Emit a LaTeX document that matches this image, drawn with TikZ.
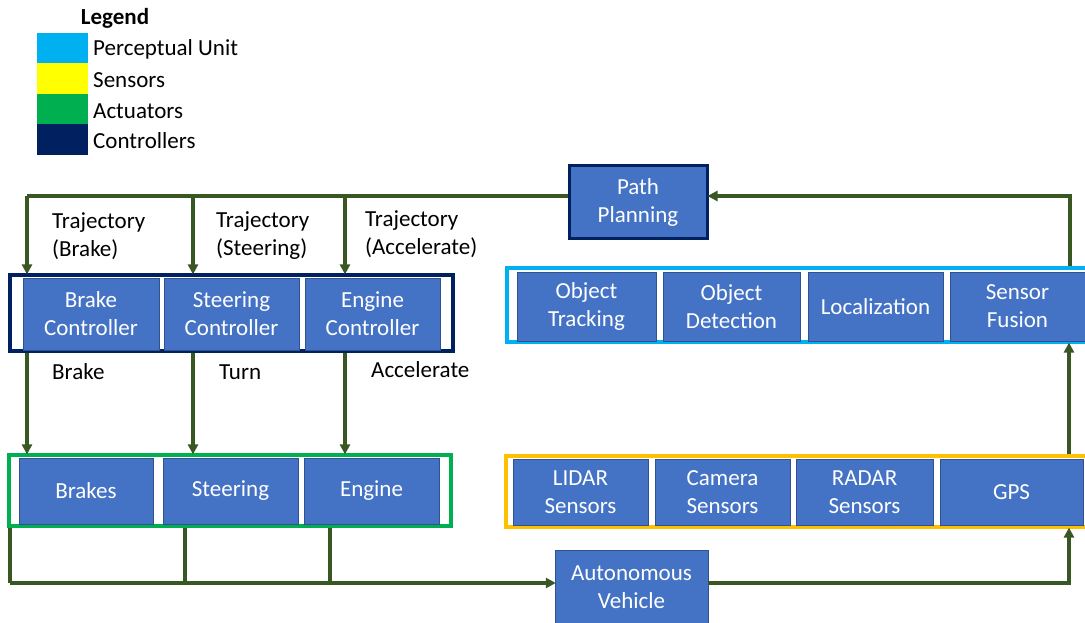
\documentclass[tikz,border=0pt]{standalone}
\usepackage{fontspec}
\setmainfont{Carlito}
\usetikzlibrary{arrows.meta}

\definecolor{unitblue}{HTML}{4472C4}
\definecolor{unitedge}{HTML}{2F528F}
\definecolor{flowgreen}{HTML}{385723}
\definecolor{ctrlnavy}{HTML}{002060}
\definecolor{actgreen}{HTML}{00B050}
\definecolor{percyan}{HTML}{00B0F0}
\definecolor{sensgold}{HTML}{FFC000}
\definecolor{legyellow}{HTML}{FFFF00}

\begin{document}
\begin{tikzpicture}[x=1pt, y=-1pt,
txt/.style={font=\fontsize{23}{28}\selectfont, inner sep=0pt},
unitbox/.style={txt, rectangle, draw=unitedge, thin, fill=unitblue, text=white, align=center, minimum width=135pt, minimum height=66pt},
groupbox/.style={rectangle, draw=#1, line width=3.2pt, inner sep=0pt},
swatch/.style={rectangle, fill=#1, minimum width=51pt, minimum height=30.5pt, inner sep=0pt},
flow/.style={draw=flowgreen, line width=3.4pt},
flowarrow/.style={flow, -{Triangle[length=10pt,width=10pt]}, shorten >=-1pt}]
\useasboundingbox (0,0) rectangle (1085,623);

% legend
\node[txt, font=\fontsize{23}{28}\selectfont\bfseries](legendTitle) at (115, 18) {Legend};
\node[swatch=percyan](legPerc) at (62.5, 48) {};
\node[swatch=legyellow](legSens) at (62.5, 78.5) {};
\node[swatch=actgreen](legAct) at (62.5, 109) {};
\node[swatch=ctrlnavy](legCtrl) at (62.5, 139.5) {};
\node[txt, anchor=west](legPercText) at (93, 49) {Perceptual Unit};
\node[txt, anchor=west](legSensText) at (93, 80) {Sensors};
\node[txt, anchor=west](legActText) at (93, 111) {Actuators};
\node[txt, anchor=west](legCtrlText) at (93, 141) {Controllers};

% path planning
\node[unitbox, draw=ctrlnavy, line width=3pt, minimum width=138pt, minimum height=72pt](pathPlanning) at (638, 202) {Path\\Planning};

% controllers
\node[groupbox=ctrlnavy, minimum width=443pt, minimum height=76pt](ctrlGroup) at (231.5, 313) {};
\node[unitbox, minimum width=136pt, minimum height=72pt](brakeCtrl) at (91, 314) {Brake\\Controller};
\node[unitbox, minimum height=72pt](steerCtrl) at (231.5, 314) {Steering\\Controller};
\node[unitbox, minimum height=72pt](engineCtrl) at (372.5, 314) {Engine\\Controller};

% actuators
\node[groupbox=actgreen, minimum width=442pt, minimum height=71pt](actGroup) at (230, 490.5) {};
\node[unitbox, minimum width=134pt](brakes) at (86, 491) {Brakes};
\node[unitbox](steering) at (230.5, 491) {Steering};
\node[unitbox](engine) at (371.5, 491) {Engine};

% perceptual unit
\node[groupbox=percyan, minimum width=582pt, minimum height=74pt](percGroup) at (798, 305) {};
\node[unitbox, minimum width=139pt, minimum height=69pt](objTracking) at (586.5, 306.5) {Object\\Tracking};
\node[unitbox, minimum width=137pt, minimum height=69pt](objDetection) at (731.5, 306.5) {Object\\Detection};
\node[unitbox, minimum height=69pt](localization) at (875.5, 306.5) {Localization};
\node[unitbox, minimum height=69pt](sensorFusion) at (1017.5, 306.5) {Sensor\\Fusion};

% sensors
\node[groupbox=sensgold, minimum width=583pt, minimum height=71pt](sensGroup) at (797.5, 491.5) {};
\node[unitbox](lidar) at (580.5, 492) {LIDAR\\Sensors};
\node[unitbox](camera) at (722.5, 492) {Camera\\Sensors};
\node[unitbox, minimum width=137pt](radar) at (864.5, 492) {RADAR\\Sensors};
\node[unitbox, minimum width=143pt](gps) at (1011.5, 492) {GPS};

% vehicle
\node[unitbox, minimum width=153pt, minimum height=74pt](vehicle) at (631.5, 587) {Autonomous\\Vehicle};

% taps on the buses
\coordinate (tapBrake) at (27, 196);
\coordinate (tapSteer) at (193, 196);
\coordinate (tapEngine) at (345, 196);
\coordinate (tapRight) at (1070, 196);
\coordinate (busLeft) at (10, 583);
\coordinate (busSteer) at (185, 583);
\coordinate (busEngine) at (330, 583);
\coordinate (busRight) at (1069, 583);

% trajectory bus into the controllers
\draw[flow] ([yshift=6pt]pathPlanning.west) -- (tapBrake);
\draw[flowarrow] (tapBrake) -- (tapBrake |- ctrlGroup.north);
\draw[flowarrow] (tapSteer) -- (tapSteer |- ctrlGroup.north);
\draw[flowarrow] (tapEngine) -- (tapEngine |- ctrlGroup.north);

\node[txt, anchor=west, align=left](trajBrake) at (52, 236) {Trajectory\\(Brake)};
\node[txt, anchor=west, align=left](trajSteer) at (216, 236) {Trajectory\\(Steering)};
\node[txt, anchor=west, align=left](trajEngine) at (365, 234) {Trajectory\\(Accelerate)};

% controllers to actuators
\draw[flowarrow] (tapBrake |- ctrlGroup.south) -- (tapBrake |- actGroup.north);
\draw[flowarrow] (tapSteer |- ctrlGroup.south) -- (tapSteer |- actGroup.north);
\draw[flowarrow] (tapEngine |- ctrlGroup.south) -- (tapEngine |- actGroup.north);

\node[txt, anchor=west](cmdBrake) at (52, 372) {Brake};
\node[txt, anchor=west](cmdTurn) at (219, 372) {Turn};
\node[txt, anchor=west](cmdAccel) at (371, 370) {Accelerate};

% actuators to vehicle
\draw[flow] (busLeft |- actGroup.south) -- (busLeft);
\draw[flow] (busSteer |- actGroup.south) -- (busSteer);
\draw[flow] (busEngine |- actGroup.south) -- (busEngine);
\draw[flowarrow] (busLeft) -- (vehicle.west |- busLeft);

% vehicle to sensors to perception to planning
\draw[flowarrow] (vehicle.east |- busRight) -- (busRight) -- (busRight |- sensGroup.south);
\draw[flowarrow] (busRight |- sensGroup.north) -- (busRight |- percGroup.south);
\draw[flowarrow] (tapRight |- percGroup.north) -- (tapRight) -- ([yshift=6pt]pathPlanning.east);

\end{tikzpicture}
\end{document}
